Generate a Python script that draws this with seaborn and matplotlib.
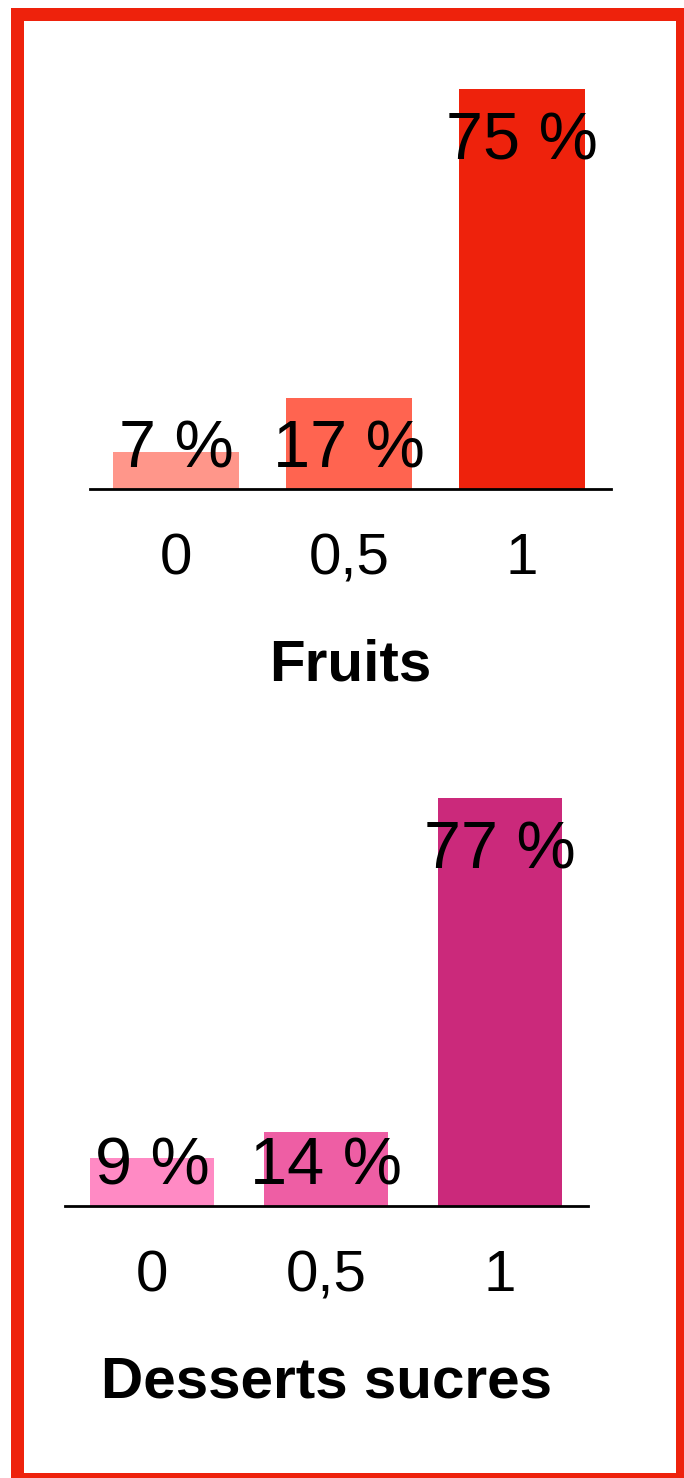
import matplotlib
matplotlib.use("Agg")
import matplotlib.pyplot as plt
from matplotlib.patches import Rectangle
import seaborn as sns

# Data
categories = ["0", "0,5", "1"]
fruits = [7, 17, 75]
desserts = [9, 14, 77]
fruit_colors = ["#FF968A", "#FF6450", "#EE220C"]
dessert_colors = ["#FF8AC4", "#EE5EA4", "#CB297B"]
titles = ["Fruits", "Desserts sucres"]

sns.set_theme(style="white")
plt.rcParams["font.family"] = ["Liberation Sans", "DejaVu Sans"]

W, H = 684, 1478
fig = plt.figure(figsize=(W / 100, H / 100), dpi=100)
fig.patch.set_facecolor("white")


def px_axes(left, right, baseline, top):
    return fig.add_axes([left / W, (H - baseline) / H, (right - left) / W, (baseline - top) / H])


def draw_panel(ax, values, colors, title, width, xlim):
    sns.barplot(x=categories, y=values, hue=categories, palette=colors,
                legend=False, width=width, saturation=1, linewidth=0, ax=ax)
    ax.set_xlim(*xlim)
    ax.set_ylim(0, 80)
    ax.set_facecolor("none")
    for side in ["left", "right", "top"]:
        ax.spines[side].set_visible(False)
    ax.spines["bottom"].set_color("black")
    ax.spines["bottom"].set_linewidth(2)
    ax.set_yticks([])
    ax.set_ylabel("")
    ax.set_xticks(range(len(categories)))
    ax.set_xticklabels(categories, fontsize=42, color="black")
    ax.tick_params(axis="x", length=0, pad=31)
    ax.set_xlabel(title, fontsize=42, fontweight="bold", color="black", labelpad=38)
    for i, v in enumerate(values):
        ax.text(i, max(v - 8.7, 8.6), f"{v} %", ha="center", va="center_baseline",
                fontsize=48, color="black")


ax1 = px_axes(90, 611, 489, 62)
draw_panel(ax1, fruits, fruit_colors, titles[0], 0.73, (-0.497, 2.514))

ax2 = px_axes(65, 588, 1206, 782)
draw_panel(ax2, desserts, dessert_colors, titles[1], 0.71, (-0.5, 2.506))

# Red frame around the whole graphic
lw_px = 13
fig.patches.append(Rectangle((16.5 / W, (H - 1478.5) / H), (681.5 - 16.5) / W, (1478.5 - 13.5) / H,
                             transform=fig.transFigure, fill=False, edgecolor="#EE220C",
                             linewidth=lw_px * 72 / 100, joinstyle="miter", clip_on=False))

fig.savefig("out.png", dpi=100, facecolor="white")
